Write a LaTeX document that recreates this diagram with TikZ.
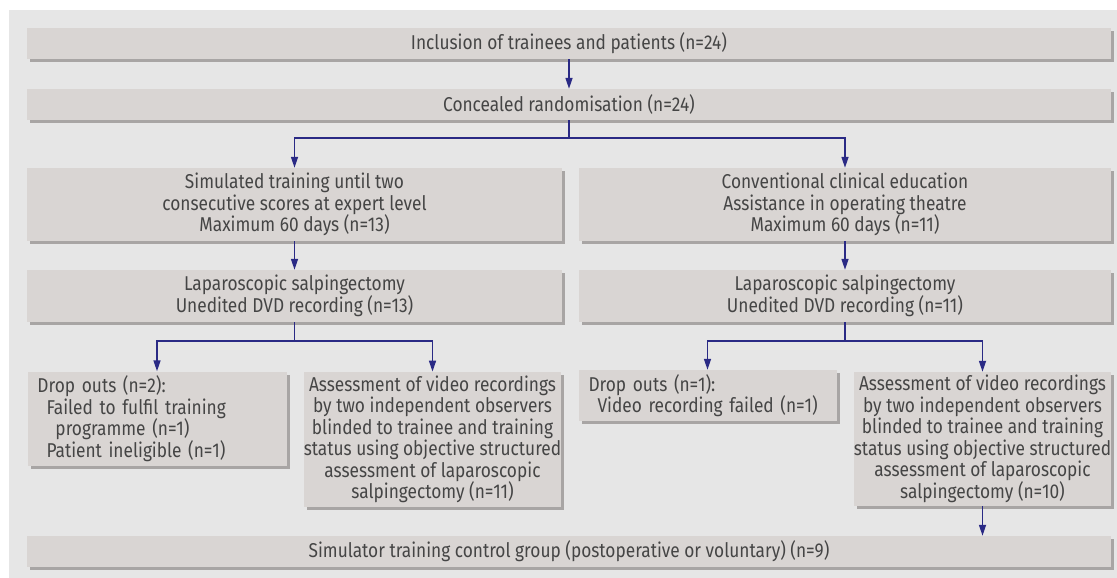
\documentclass[tikz,border=0pt]{standalone}
\usepackage{fontspec}
\setmainfont[FakeStretch=0.865]{Fira Sans}
\usetikzlibrary{arrows.meta,shadows}
\definecolor{panelc}{HTML}{E6E6E6}
\definecolor{boxc}{HTML}{D9D5D3}
\definecolor{shadc}{HTML}{A8A5A4}
\definecolor{txtc}{HTML}{454545}
\definecolor{arrc}{HTML}{2A2A85}
\begin{document}
\begin{tikzpicture}[x=1pt,y=-1pt,
  box/.style={fill=boxc, draw=none, inner sep=0pt, text=txtc,
    font=\fontsize{20}{21.5}\selectfont, align=center,
    drop shadow={shadow xshift=3pt, shadow yshift=-3pt, fill=shadc, opacity=1}},
  lbox/.style={box, align=left, inner xsep=10pt},
  arr/.style={draw=arrc, line width=1.6pt, -{Triangle[length=11pt,width=7pt]}},
  ln/.style={draw=arrc, line width=1.6pt}]
\useasboundingbox (0,0) rectangle (1117,578);
\fill[white] (0,0) rectangle (1117,578);
\fill[panelc] (9,10) rectangle (1117,578);

\node[box, minimum width=1084pt, minimum height=31pt] (inc) at (569,43.5) {Inclusion of trainees and patients (n=24)};
\node[box, minimum width=1084pt, minimum height=31pt] (rand) at (569,104.5) {Concealed randomisation (n=24)};

\node[box, minimum width=535pt, minimum height=73pt] (sim) at (294.5,204.5) {Simulated training until two\\consecutive scores at expert level\\Maximum 60 days (n=13)};
\node[box, minimum width=532pt, minimum height=73pt] (conv) at (845,204.5) {Conventional clinical education\\Assistance in operating theatre\\Maximum 60 days (n=11)};

\node[box, minimum width=535pt, minimum height=52pt] (lapL) at (294.5,296) {Laparoscopic salpingectomy\\Unedited DVD recording (n=13)};
\node[box, minimum width=532pt, minimum height=52pt] (lapR) at (845,296) {Laparoscopic salpingectomy\\Unedited DVD recording (n=11)};

\node[lbox, text width=239pt, minimum height=94pt] (dropL) at (157,418.5) {Drop outs (n=2):\\\hspace*{9pt}Failed to fulfil training\\\hspace*{18pt}programme (n=1)\\\hspace*{9pt}Patient ineligible (n=1)};
\node[box, minimum width=257pt, minimum height=135pt] (assL) at (432.5,439.3) {Assessment of video recordings\\by two independent observers\\blinded to trainee and training\\status using objective structured\\assessment of laparoscopic\\salpingectomy (n=11)};

\node[lbox, text width=238pt, minimum height=51pt] (dropR) at (707.5,395.5) {Drop outs (n=1):\\\hspace*{9pt}Video recording failed (n=1)};
\node[box, minimum width=257pt, minimum height=134pt] (assR) at (982.5,439) {Assessment of video recordings\\by two independent observers\\blinded to trainee and training\\status using objective structured\\assessment of laparoscopic\\salpingectomy (n=10)};

\node[box, minimum width=1084pt, minimum height=31pt] (ctrl) at (569,551.5) {Simulator training control group (postoperative or voluntary) (n=9)};

\coordinate (b1) at (569,138);
\coordinate (b2) at (294.5,341);
\coordinate (b3) at (845,341);

\draw[arr] (inc) -- (rand);
\draw[ln] (rand.south) -- (b1);
\draw[arr] (b1) -| (sim.north);
\draw[arr] (b1) -| (conv.north);
\draw[arr] (sim) -- (lapL);
\draw[arr] (conv) -- (lapR);
\draw[ln] (lapL.south) -- (b2);
\draw[arr] (b2) -| (dropL.north);
\draw[arr] (b2) -| (assL.north);
\draw[ln] (lapR.south) -- (b3);
\draw[arr] (b3) -| (dropR.north);
\draw[arr] (b3) -| (assR.north);
\draw[arr] (assR) -- (assR.south |- ctrl.north);
\end{tikzpicture}
\end{document}
